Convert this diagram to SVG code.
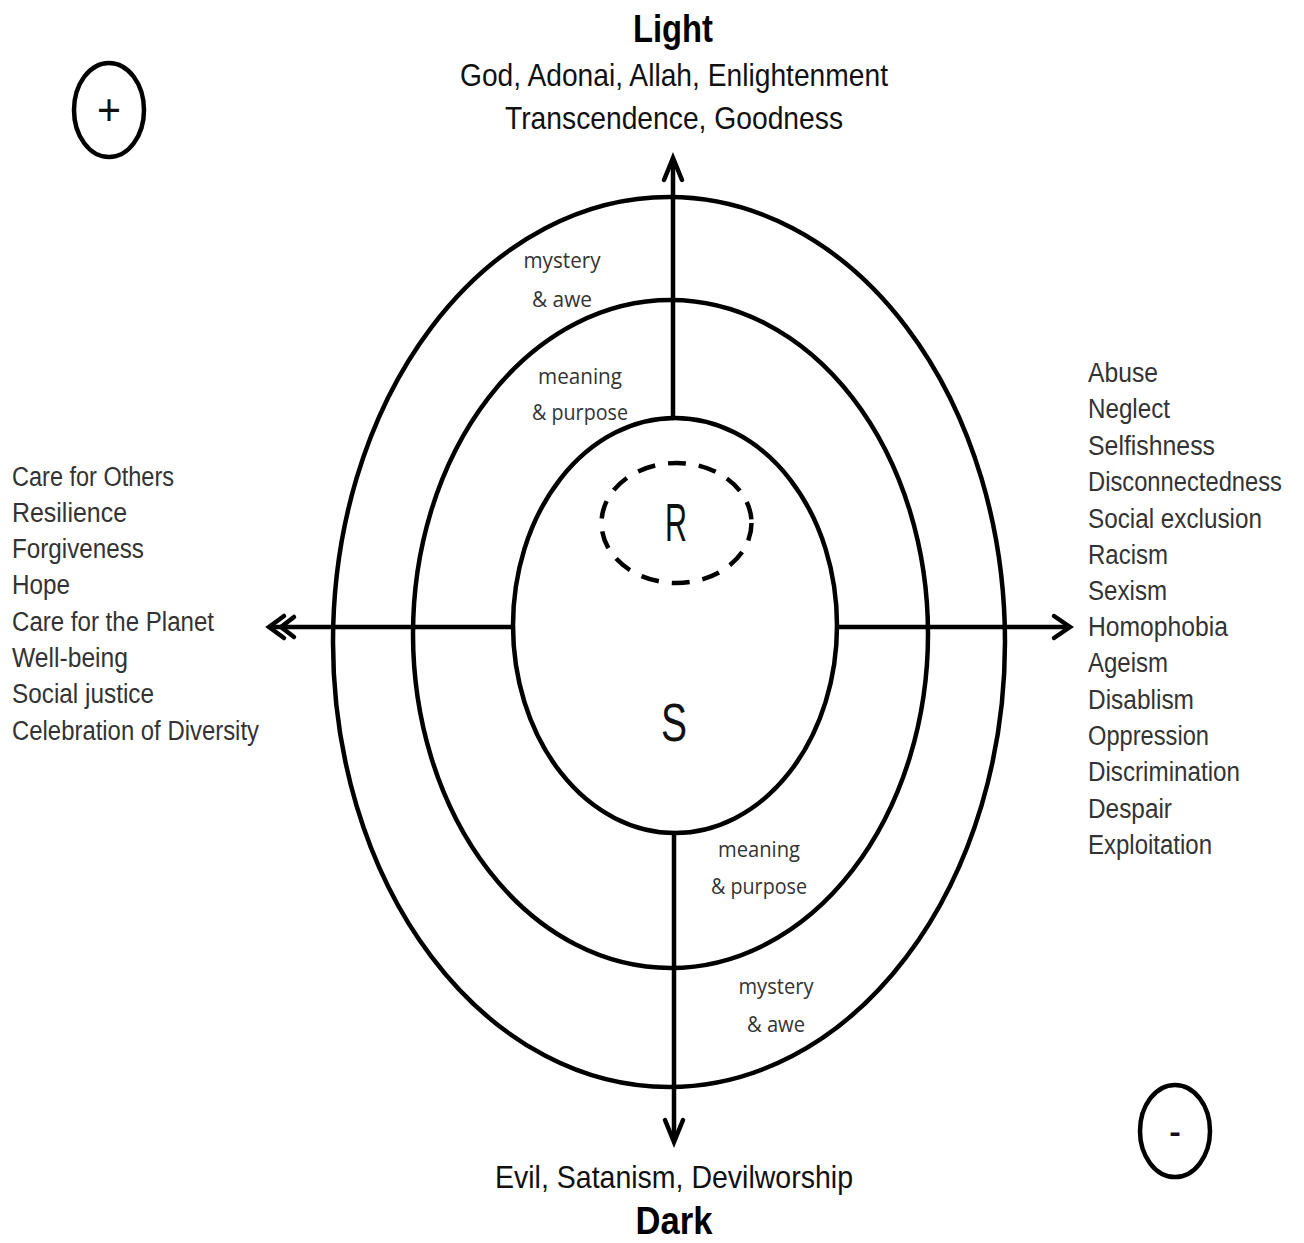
<svg xmlns="http://www.w3.org/2000/svg" width="1304" height="1243" viewBox="0 0 1304 1243">
<style>
.ring{fill:none;stroke:#000;stroke-width:4.5}
.dash{fill:none;stroke:#000;stroke-width:4.5;stroke-dasharray:18 13}
.axis{fill:none;stroke:#000;stroke-width:4.5;stroke-linecap:round;stroke-linejoin:round}
.head{fill:none;stroke:#000;stroke-width:4.5;stroke-linecap:round;stroke-linejoin:miter}
.title{font-family:"Liberation Sans",Arial,sans-serif;font-weight:bold;font-size:38px;fill:#000;text-anchor:middle}
.sub{font-family:"Liberation Sans",Arial,sans-serif;font-size:32px;fill:#111;text-anchor:middle}
.list{font-family:"Liberation Sans",Arial,sans-serif;font-size:27px;fill:#333}
.small{font-family:"Open Sans","Noto Sans",sans-serif;font-size:21px;fill:#333;text-anchor:middle}
.big{font-family:"Liberation Sans",Arial,sans-serif;font-size:54px;fill:#111;text-anchor:middle}
.sign{font-family:"Liberation Sans",Arial,sans-serif;font-size:44px;fill:#111;text-anchor:middle}
</style>
<rect width="1304" height="1243" fill="#fff"/>

<g id="outer-ring"><ellipse class="ring" cx="669" cy="642" rx="336" ry="445"/></g>
<g id="middle-ring"><ellipse class="ring" cx="670.5" cy="634" rx="257.5" ry="334"/></g>
<g id="inner-ring"><ellipse class="ring" cx="675" cy="625.5" rx="162" ry="207.5"/></g>
<g id="r-ellipse"><ellipse class="dash" cx="676.5" cy="523" rx="75" ry="60"/>
<text class="big" x="676" y="541" textLength="22" lengthAdjust="spacingAndGlyphs">R</text></g>
<g id="s-label"><text class="big" x="674" y="741" textLength="26" lengthAdjust="spacingAndGlyphs">S</text></g>

<g id="connectors">
<line class="axis" x1="673" y1="418" x2="673" y2="160"/>
<path class="head" d="M664,180 L673,158 L682,180"/>
<line class="axis" x1="674" y1="833" x2="674" y2="1140"/>
<path class="head" d="M665,1120 L674,1142 L683,1120"/>
<line class="axis" x1="513" y1="627" x2="272" y2="627"/>
<path class="head" d="M284,616 L269,627 L284,638"/>
<path class="head" d="M294,617 L281,627 L294,637"/>
<line class="axis" x1="837" y1="627" x2="1068" y2="627"/>
<path class="head" d="M1054,616 L1070,627 L1054,638"/>
</g>

<g id="plus-sign"><ellipse class="ring" cx="109" cy="110" rx="35" ry="47"/>
<text class="sign" x="109" y="125" textLength="24" lengthAdjust="spacingAndGlyphs">+</text></g>
<g id="minus-sign"><ellipse class="ring" cx="1175" cy="1131" rx="35" ry="46"/>
<text class="sign" x="1175" y="1146" textLength="12" lengthAdjust="spacingAndGlyphs">-</text></g>

<g id="light-label">
<text class="title" x="673" y="42" textLength="80" lengthAdjust="spacingAndGlyphs">Light</text>
<text class="sub" x="674" y="86" textLength="428" lengthAdjust="spacingAndGlyphs">God, Adonai, Allah, Enlightenment</text>
<text class="sub" x="674" y="129" textLength="338" lengthAdjust="spacingAndGlyphs">Transcendence, Goodness</text>
</g>
<g id="dark-label">
<text class="sub" x="674" y="1188" textLength="358" lengthAdjust="spacingAndGlyphs">Evil, Satanism, Devilworship</text>
<text class="title" x="674" y="1234" textLength="77" lengthAdjust="spacingAndGlyphs">Dark</text>
</g>

<g id="positive-list">
<text class="list" x="12" y="486" textLength="162" lengthAdjust="spacingAndGlyphs">Care for Others</text>
<text class="list" x="12" y="522" textLength="115" lengthAdjust="spacingAndGlyphs">Resilience</text>
<text class="list" x="12" y="558" textLength="132" lengthAdjust="spacingAndGlyphs">Forgiveness</text>
<text class="list" x="12" y="594" textLength="58" lengthAdjust="spacingAndGlyphs">Hope</text>
<text class="list" x="12" y="631" textLength="202" lengthAdjust="spacingAndGlyphs">Care for the Planet</text>
<text class="list" x="12" y="667" textLength="116" lengthAdjust="spacingAndGlyphs">Well-being</text>
<text class="list" x="12" y="703" textLength="142" lengthAdjust="spacingAndGlyphs">Social justice</text>
<text class="list" x="12" y="740" textLength="247" lengthAdjust="spacingAndGlyphs">Celebration of Diversity</text>
</g>

<g id="negative-list">
<text class="list" x="1088" y="382" textLength="70" lengthAdjust="spacingAndGlyphs">Abuse</text>
<text class="list" x="1088" y="418" textLength="82" lengthAdjust="spacingAndGlyphs">Neglect</text>
<text class="list" x="1088" y="455" textLength="127" lengthAdjust="spacingAndGlyphs">Selfishness</text>
<text class="list" x="1088" y="491" font-size="23" textLength="194" lengthAdjust="spacingAndGlyphs">Disconnectedness</text>
<text class="list" x="1088" y="528" textLength="174" lengthAdjust="spacingAndGlyphs">Social exclusion</text>
<text class="list" x="1088" y="564" textLength="80" lengthAdjust="spacingAndGlyphs">Racism</text>
<text class="list" x="1088" y="600" textLength="79" lengthAdjust="spacingAndGlyphs">Sexism</text>
<text class="list" x="1088" y="636" textLength="140" lengthAdjust="spacingAndGlyphs">Homophobia</text>
<text class="list" x="1088" y="672" textLength="80" lengthAdjust="spacingAndGlyphs">Ageism</text>
<text class="list" x="1088" y="709" textLength="106" lengthAdjust="spacingAndGlyphs">Disablism</text>
<text class="list" x="1088" y="745" textLength="121" lengthAdjust="spacingAndGlyphs">Oppression</text>
<text class="list" x="1088" y="781" textLength="152" lengthAdjust="spacingAndGlyphs">Discrimination</text>
<text class="list" x="1088" y="818" textLength="84" lengthAdjust="spacingAndGlyphs">Despair</text>
<text class="list" x="1088" y="854" textLength="124" lengthAdjust="spacingAndGlyphs">Exploitation</text>
</g>

<g id="upper-ring-labels">
<text class="small" x="562" y="268" textLength="77" lengthAdjust="spacingAndGlyphs">mystery</text>
<text class="small" x="562" y="307" textLength="60" lengthAdjust="spacingAndGlyphs">&amp; awe</text>
<text class="small" x="580" y="384" textLength="84" lengthAdjust="spacingAndGlyphs">meaning</text>
<text class="small" x="580" y="420" textLength="96" lengthAdjust="spacingAndGlyphs">&amp; purpose</text>
</g>
<g id="lower-ring-labels">
<text class="small" x="759" y="857" textLength="82" lengthAdjust="spacingAndGlyphs">meaning</text>
<text class="small" x="759" y="894" textLength="96" lengthAdjust="spacingAndGlyphs">&amp; purpose</text>
<text class="small" x="776" y="994" textLength="75" lengthAdjust="spacingAndGlyphs">mystery</text>
<text class="small" x="776" y="1032" textLength="58" lengthAdjust="spacingAndGlyphs">&amp; awe</text>
</g>
</svg>
